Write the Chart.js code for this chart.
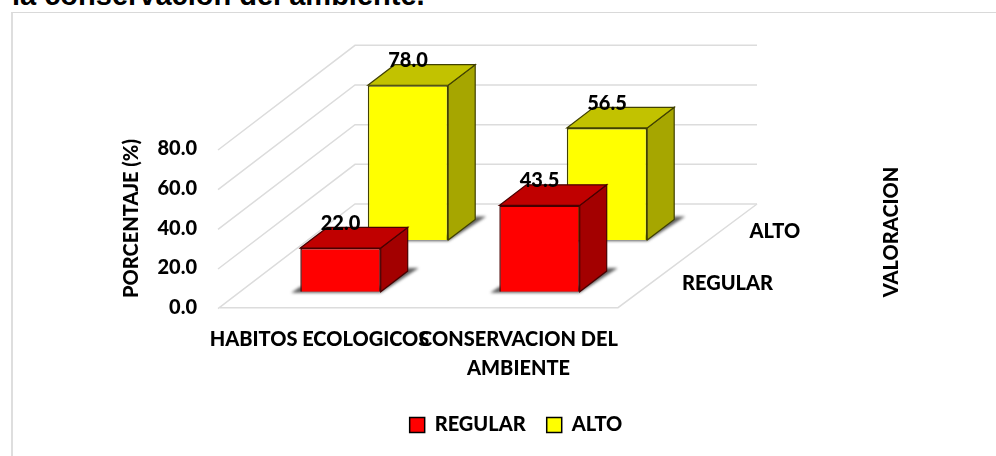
<!DOCTYPE html>
<html>
<head>
<meta charset="utf-8">
<style>
  html, body { margin: 0; padding: 0; background: #fff; overflow: hidden; }
  #heading { position: absolute; left: 12px; top: -21px; font: bold 29px "Liberation Sans", Arial, sans-serif; color: #000; white-space: nowrap; }
  #frame { position: absolute; left: 11px; top: 12px; width: 1000px; height: 460px; border-left: 2px solid #dedede; border-top: 1.5px solid #d9d9d9; }
  #wrap { position: absolute; left: 0; top: 0; width: 996px; height: 456px; }
</style>
</head>
<body>
<div id="heading">la conservación del ambiente.</div>
<div id="frame"></div>
<div id="wrap"><canvas id="chart" width="996" height="456"></canvas></div>
<script src="https://cdn.jsdelivr.net/npm/chart.js@4"></script>
<script>
const categories = ["HABITOS ECOLOGICOS", ["CONSERVACION DEL", "AMBIENTE"]];
const seriesNames = ["REGULAR", "ALTO"];
const regularValues = [22.0, 43.5];
const altoValues = [78.0, 56.5];
const tickValues = [0, 20, 40, 60, 80];

const fontFamily = "Lato";
const fontSize = 20;
const fontWeight = "900";
const textFont = { family: fontFamily, size: fontSize, weight: fontWeight };

// fake 3D look: each series row is pushed back along the floor
const rowShift = [{ x: 21, y: -16 }, { x: 88.5, y: -67.7 }];
const barDepth = { x: 27, y: -20.6 };
const floorDepth = { x: 135, y: -103.7 };
const frontColors = ["#ff0000", "#ffff00"];
const sideColors = ["#a30000", "#a6a600"];
const topColors = ["#c00000", "#c2c200"];
const edgeColors = ["#480000", "#404000"];
const wallColor = "#dcdcdc";

function poly(ctx, pts, fill, stroke) {
  ctx.beginPath();
  pts.forEach((p, i) => (i ? ctx.lineTo(p[0], p[1]) : ctx.moveTo(p[0], p[1])));
  ctx.closePath();
  if (fill) { ctx.fillStyle = fill; ctx.fill(); }
  if (stroke) { ctx.strokeStyle = stroke; ctx.lineWidth = 1.2; ctx.stroke(); }
}

function label(ctx, text, x, y, angle, align) {
  ctx.save();
  ctx.translate(x, y);
  ctx.rotate(angle || 0);
  ctx.font = fontWeight + " " + fontSize + "px " + fontFamily;
  ctx.fillStyle = "#000";
  ctx.textAlign = align || "center";
  ctx.textBaseline = "middle";
  ctx.fillText(text, 0, 0);
  ctx.restore();
}

const walls3d = {
  id: "walls3d",
  beforeDatasetsDraw(chart) {
    const ctx = chart.ctx;
    const { left, right } = chart.chartArea;
    const yScale = chart.scales.y;
    const zero = yScale.getPixelForValue(0);
    ctx.save();
    ctx.strokeStyle = wallColor;
    ctx.lineWidth = 1.5;
    tickValues.forEach(v => {
      const y = yScale.getPixelForValue(v);
      ctx.beginPath();
      ctx.moveTo(left - 2, y + 1);
      ctx.lineTo(left + floorDepth.x, y + floorDepth.y);
      ctx.lineTo(right + floorDepth.x + 4, y + floorDepth.y);
      ctx.stroke();
    });
    ctx.beginPath();
    ctx.moveTo(left, zero);
    ctx.lineTo(right, zero);
    ctx.lineTo(right + floorDepth.x + 4, zero + floorDepth.y);
    ctx.stroke();
    ctx.restore();
  },
  beforeDatasetDraw(chart, args) {
    const ctx = chart.ctx;
    const i = args.index;
    ctx.save();
    ctx.translate(rowShift[i].x, rowShift[i].y);
    // soft shadow on the floor
    args.meta.data.forEach(bar => {
      const x0 = bar.x - bar.width / 2;
      const x1 = bar.x + bar.width / 2;
      ctx.save();
      ctx.filter = "blur(1.5px)";
      poly(ctx, [[x0 - 9, bar.base + 1], [x1, bar.base + 1], [x1 + barDepth.x + 11, bar.base + barDepth.y - 3], [x1 + barDepth.x, bar.base + barDepth.y - 3], [x1, bar.base - 5], [x0, bar.base - 5]], "rgba(40,40,40,0.75)");
      ctx.restore();
    });
  },
  afterDatasetDraw(chart, args) {
    const ctx = chart.ctx;
    const i = args.index;
    args.meta.data.forEach(bar => {
      const x0 = bar.x - bar.width / 2;
      const x1 = bar.x + bar.width / 2;
      const dx = barDepth.x, dy = barDepth.y;
      poly(ctx, [[x1, bar.y], [x1 + dx, bar.y + dy], [x1 + dx, bar.base + dy], [x1, bar.base]], sideColors[i], edgeColors[i]);
      poly(ctx, [[x0, bar.y], [x0 + dx, bar.y + dy], [x1 + dx, bar.y + dy], [x1, bar.y]], topColors[i], edgeColors[i]);
    });
    ctx.restore();
  },
  afterDatasetsDraw(chart) {
    const ctx = chart.ctx;
    const { right } = chart.chartArea;
    const zero = chart.scales.y.getPixelForValue(0);
    chart.data.datasets.forEach((ds, i) => {
      chart.getDatasetMeta(i).data.forEach((bar, j) => {
        label(ctx, ds.data[j].toFixed(1), bar.x + rowShift[i].x, bar.y + rowShift[i].y - 24.5);
      });
      label(ctx, seriesNames[i], right + rowShift[i].x + 43, zero + rowShift[i].y - 8.5, 0, "left");
    });
    label(ctx, "PORCENTAJE (%)", 131.5, 218.5, -Math.PI / 2);
    label(ctx, "VALORACION", 892, 232, -Math.PI / 2);
  }
};

new Chart(document.getElementById("chart"), {
  type: "bar",
  data: {
    labels: categories,
    datasets: [
      { label: seriesNames[0], data: regularValues },
      { label: seriesNames[1], data: altoValues }
    ].map((ds, i) => ({
      ...ds,
      backgroundColor: frontColors[i],
      borderColor: edgeColors[i],
      borderWidth: 1.5,
      grouped: false,
      categoryPercentage: 1,
      barPercentage: 0.404,
      clip: false
    }))
  },
  options: {
    responsive: false,
    animation: false,
    layout: { padding: { top: 149, left: 36, right: 0, bottom: 11 } },
    plugins: {
      tooltip: { enabled: false },
      title: { display: false },
      legend: {
        position: "bottom",
        onClick: null,
        labels: {
          color: "#000",
          font: textFont,
          boxWidth: 15,
          boxHeight: 15,
          padding: 21,
          generateLabels(chart) {
            return seriesNames.map((name, i) => ({
              text: name,
              datasetIndex: i,
              fillStyle: frontColors[i],
              strokeStyle: "#000",
              lineWidth: 1.5,
              fontColor: "#000"
            }));
          }
        }
      }
    },
    scales: {
      x: {
        grid: { display: false, drawTicks: false },
        border: { display: false },
        afterFit(scale) { scale.height = 86.3; },
        ticks: {
          autoSkip: false,
          maxRotation: 0,
          minRotation: 0,
          padding: 17,
          color: "#000",
          font: { ...textFont, lineHeight: 1.45 }
        }
      },
      y: {
        min: 0,
        max: 80,
        grid: { display: false, drawTicks: false },
        border: { display: false },
        afterFit(scale) { scale.width = 184; },
        afterBuildTicks(scale) { scale.ticks = tickValues.map(v => ({ value: v })); },
        ticks: {
          padding: 23,
          color: "#000",
          font: textFont,
          callback: v => v.toFixed(1)
        }
      },
      depthSpace: {
        type: "linear",
        position: "right",
        display: true,
        grid: { display: false, drawTicks: false },
        border: { display: false },
        ticks: { display: false },
        afterFit(scale) { scale.width = 378; }
      }
    }
  },
  plugins: [walls3d]
});
</script>
</body>
</html>
